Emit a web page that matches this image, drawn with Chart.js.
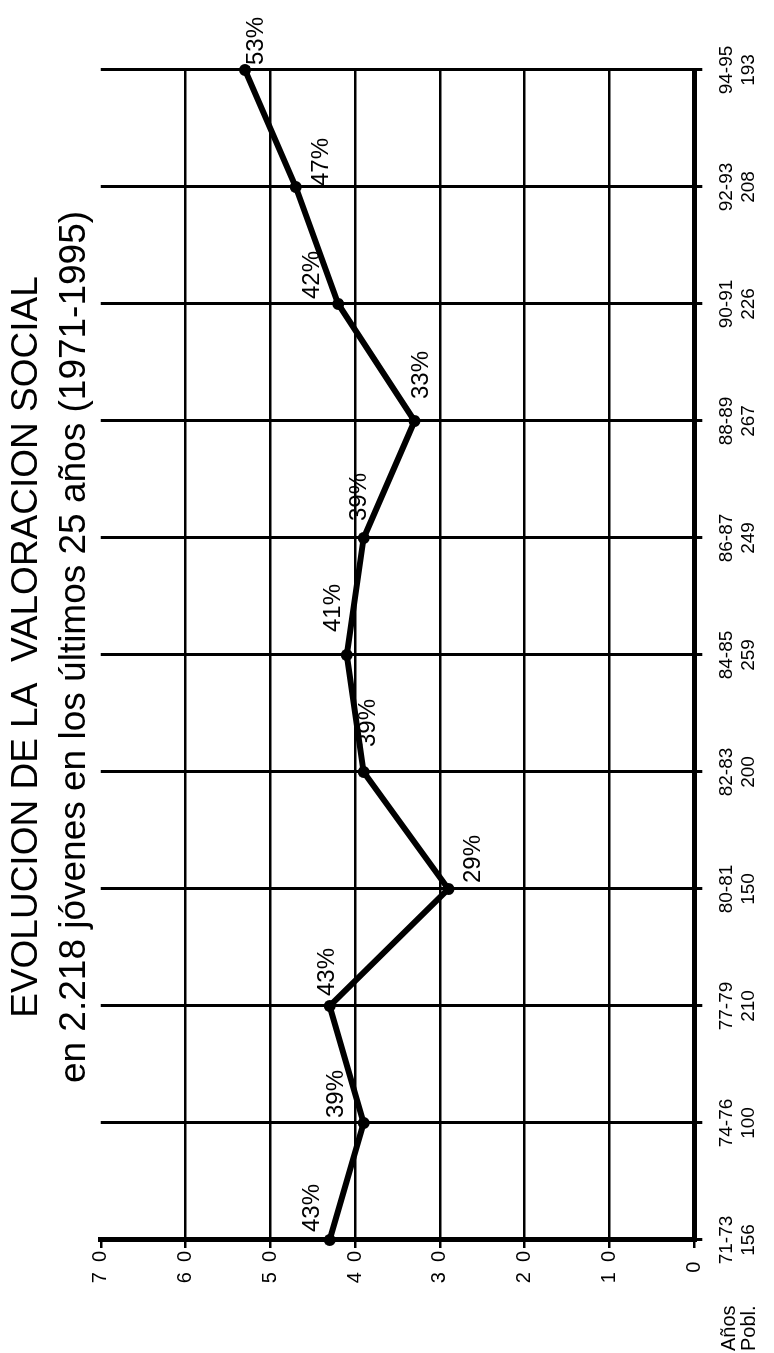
<!DOCTYPE html>
<html lang="es">
<head>
<meta charset="utf-8">
<title>Evolución de la valoración social</title>
<script src="https://cdn.jsdelivr.net/npm/chart.js@4.4.1/dist/chart.umd.min.js"></script>
<style>
  html, body { margin: 0; padding: 0; background: #fff; overflow: hidden; }
  /* el gráfico se dibuja apaisado y se gira 90° para quedar vertical */
  #lienzo {
    position: absolute; left: 0; top: 0;
    width: 1353px; height: 774px;
    transform-origin: 0 0;
    transform: translateY(1353px) rotate(-90deg);
  }
</style>
</head>
<body>
<div id="lienzo"><canvas id="valoracionChart" width="1353" height="774"></canvas></div>
<script>
// Datos del gráfico
const periodos = ['71-73', '74-76', '77-79', '80-81', '82-83', '84-85', '86-87', '88-89', '90-91', '92-93', '94-95'];
const poblacion = [156, 100, 210, 150, 200, 259, 249, 267, 226, 208, 193];
const valoracion = [43, 39, 43, 29, 39, 41, 39, 33, 42, 47, 53];
const marcasEje = [0, 10, 20, 30, 40, 50, 60, 70];

const titulo = 'EVOLUCION DE LA  VALORACION SOCIAL';
const subtitulo = 'en 2.218 jóvenes en los últimos 25 años (1971-1995)';
const cabecera = ['Años', 'Pobl.'];

const fuente = "'Liberation Sans', Arial, Helvetica, sans-serif";

// colocación de cada etiqueta "xx%": separación a la derecha del punto y desplazamiento vertical (px)
const separacionEtiquetas = [8, 5, 10, 6, 25, 23, 17, 22, 5, 1, 5];
const desplazamientoEtiquetas = [-17, -27, -2, 25, 5, -13, -4, 7, -26, 26, 11];

// Etiquetas de porcentaje junto a cada punto
const etiquetasPorcentaje = {
    id: 'etiquetasPorcentaje',
    afterDatasetsDraw(chart) {
        const ctx = chart.ctx;
        const puntos = chart.getDatasetMeta(0).data;
        ctx.save();
        ctx.font = `24px ${fuente}`;
        ctx.fillStyle = '#000';
        ctx.textAlign = 'left';
        ctx.textBaseline = 'middle';
        puntos.forEach((p, i) => {
            ctx.fillText(valoracion[i] + '%', p.x + separacionEtiquetas[i], p.y + desplazamientoEtiquetas[i]);
        });
        ctx.restore();
    }
};

// Cabecera "Años / Pobl." a la izquierda de las etiquetas de periodo
const cabeceraEje = {
    id: 'cabeceraEje',
    afterDraw(chart) {
        const ctx = chart.ctx;
        const base = chart.chartArea.bottom;
        ctx.save();
        ctx.font = `20px ${fuente}`;
        ctx.fillStyle = '#000';
        ctx.textAlign = 'left';
        ctx.textBaseline = 'middle';
        ctx.fillText(cabecera[0], 2, base + 35);
        ctx.fillText(cabecera[1], 2, base + 55);
        ctx.restore();
    }
};

function crearGrafico() {
    const ctx = document.getElementById('valoracionChart');

    new Chart(ctx, {
        type: 'line',
        data: {
            labels: periodos,
            datasets: [{
                data: valoracion,
                borderColor: '#000',
                borderWidth: 6,
                tension: 0,
                pointRadius: 6,
                pointBorderWidth: 0,
                pointBackgroundColor: '#000',
                clip: false
            }]
        },
        options: {
            responsive: false,
            animation: false,
            layout: {
                padding: { left: 59, right: 0, top: 0, bottom: 0 }
            },
            plugins: {
                legend: { display: false },
                tooltip: { enabled: false },
                title: {
                    display: true,
                    text: titulo,
                    color: '#000',
                    font: { family: fuente, size: 37, weight: 'normal', lineHeight: 1.2 },
                    padding: { top: 5, bottom: 0 }
                },
                subtitle: {
                    display: true,
                    text: subtitulo,
                    color: '#000',
                    font: { family: fuente, size: 37, weight: 'normal', lineHeight: 1.2 },
                    padding: { top: 3, bottom: 4 }
                }
            },
            scales: {
                x: {
                    offset: false,
                    grid: {
                        color: ctx => ctx.index === 0 ? 'rgba(0,0,0,0)' : '#000',
                        tickColor: '#000',
                        lineWidth: 3,
                        tickLength: 8
                    },
                    border: { display: true, color: '#000', width: 5 },
                    ticks: {
                        autoSkip: false,
                        maxRotation: 0,
                        padding: 14,
                        color: '#000',
                        font: { family: fuente, size: 19, lineHeight: 1.15 },
                        callback: (valor, i) => [periodos[i], String(poblacion[i])]
                    }
                },
                y: {
                    min: 0,
                    max: 70,
                    afterBuildTicks: escala => {
                        escala.ticks = marcasEje.map(v => ({ value: v }));
                    },
                    afterFit: escala => {
                        escala.width = 54;
                    },
                    grid: {
                        color: ctx => (ctx.tick.value === 0 || ctx.tick.value === 70) ? 'rgba(0,0,0,0)' : '#000',
                        tickColor: '#000',
                        lineWidth: 2.5,
                        tickLength: 8
                    },
                    border: { display: true, color: '#000', width: 5 },
                    ticks: {
                        crossAlign: 'center',
                        padding: 3,
                        color: '#000',
                        font: { family: fuente, size: 20 },
                        callback: v => String(v).split('').join('\u2002')
                    }
                },
                // eje vacío a la derecha: deja el margen libre junto a la última línea
                margen: {
                    type: 'linear',
                    position: 'right',
                    grid: { display: false },
                    border: { display: false },
                    ticks: { display: false },
                    afterFit: escala => {
                        escala.width = 70;
                    }
                }
            }
        },
        plugins: [etiquetasPorcentaje, cabeceraEje]
    });
}

document.addEventListener('DOMContentLoaded', crearGrafico);
</script>
</body>
</html>
